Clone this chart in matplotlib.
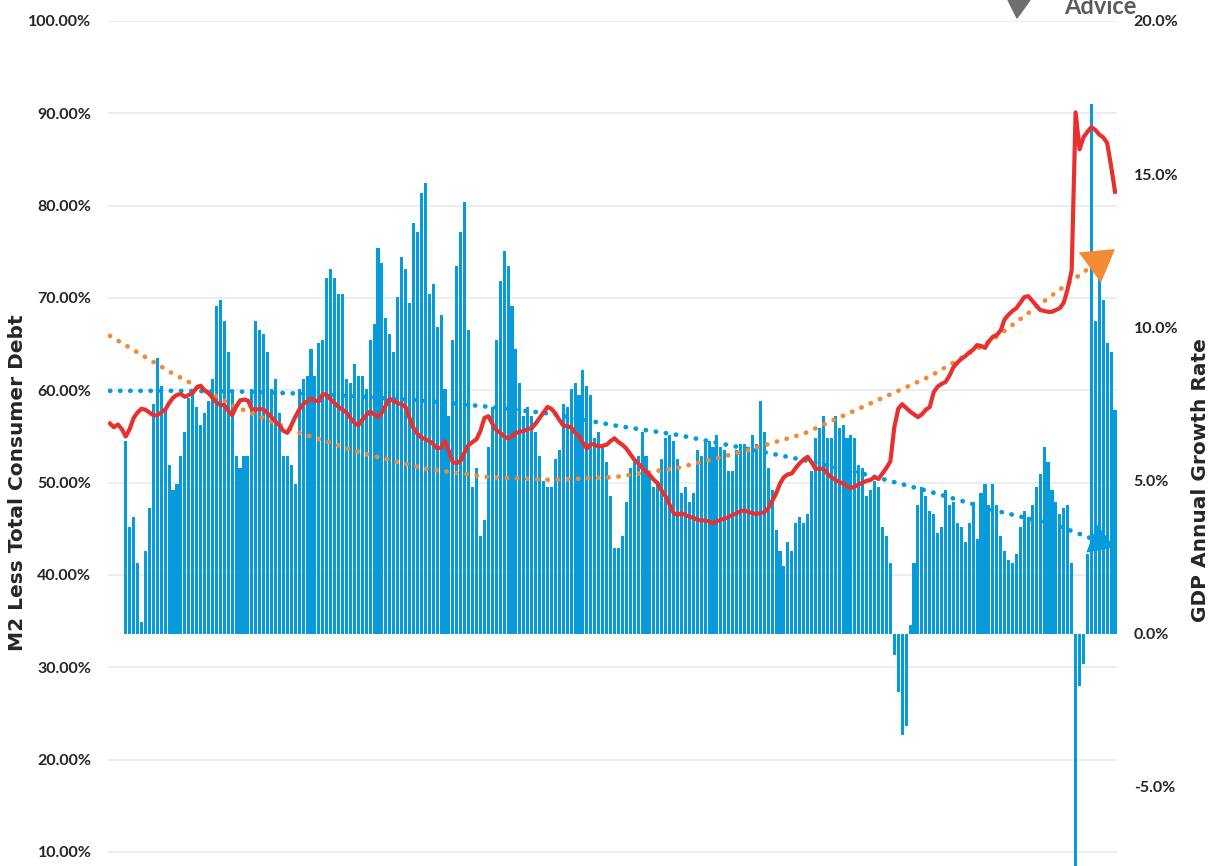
import numpy as np
import pandas as pd
import matplotlib
matplotlib.use('Agg')
import matplotlib.pyplot as plt
from matplotlib.ticker import FuncFormatter

plt.rcParams['font.family'] = ['Lato', 'DejaVu Sans']

# Quarters covered by the chart
quarters = pd.period_range('1959Q1', '2022Q4', freq='Q')

# M2 less total consumer debt (% of GDP), quarterly 1959Q1 - 2022Q4
m2_less_debt = [
    56.4, 56.0, 56.3, 55.8, 55.0, 55.8, 57.0, 57.6, 58.0, 57.9, 57.6, 57.3, 57.3, 57.6, 57.9, 58.6,  # 1959-62
    59.2, 59.5, 59.6, 59.3, 59.5, 59.7, 60.3, 60.5, 60.0, 59.7, 59.2, 58.7, 58.4, 58.4, 57.8, 57.3,  # 1963-66
    58.2, 58.9, 59.0, 58.9, 58.0, 57.9, 58.0, 57.9, 57.5, 57.1, 56.6, 56.2, 55.6, 55.4, 56.2, 57.1,  # 1967-70
    57.9, 58.5, 58.8, 59.1, 58.9, 58.8, 59.6, 59.5, 59.0, 58.6, 58.2, 57.9, 57.6, 57.0, 56.5, 56.2,  # 1971-74
    56.8, 57.3, 57.7, 57.4, 57.1, 57.6, 58.4, 59.1, 58.8, 58.6, 58.5, 58.2, 57.0, 55.9, 55.3, 54.9,  # 1975-78
    54.7, 54.5, 54.2, 53.7, 53.8, 54.5, 53.4, 52.2, 52.1, 52.4, 53.3, 54.1, 54.4, 54.7, 55.6, 57.0,  # 1979-82
    57.2, 56.4, 55.7, 55.4, 55.0, 54.8, 55.0, 55.4, 55.5, 55.6, 55.8, 55.9, 56.4, 57.0, 57.6, 58.2,  # 1983-86
    58.0, 57.5, 56.8, 56.2, 56.1, 56.0, 55.4, 55.0, 54.3, 53.7, 54.2, 54.1, 53.9, 54.0, 54.1, 54.5,  # 1987-90
    54.8, 54.4, 54.1, 53.7, 53.1, 52.5, 52.1, 51.6, 51.2, 50.8, 50.3, 49.9, 49.1, 48.5, 47.6, 46.7,  # 1991-94
    46.5, 46.7, 46.5, 46.3, 46.2, 46.0, 45.9, 45.9, 45.8, 45.6, 45.8, 46.0, 46.1, 46.3, 46.5, 46.7,  # 1995-98
    46.9, 47.0, 46.8, 46.7, 46.6, 46.7, 46.8, 47.2, 48.0, 48.8, 49.9, 50.6, 50.9, 51.0, 51.6, 52.1,  # 1999-02
    52.5, 52.8, 52.2, 51.5, 51.5, 51.5, 51.0, 50.6, 50.3, 50.1, 49.9, 49.6, 49.4, 49.6, 49.8, 50.0,  # 2003-06
    50.2, 50.3, 50.6, 50.4, 51.0, 51.6, 52.3, 56.0, 58.0, 58.5, 58.1, 57.7, 57.4, 57.1, 57.4, 57.9,  # 2007-10
    58.2, 59.8, 60.4, 60.7, 60.9, 61.6, 62.5, 63.0, 63.4, 63.7, 64.1, 64.4, 64.9, 64.8, 64.6, 65.3,  # 2011-14
    65.8, 66.0, 66.5, 67.7, 68.2, 68.6, 68.9, 69.5, 70.1, 70.2, 69.7, 69.2, 68.7, 68.6, 68.5, 68.5,  # 2015-18
    68.7, 68.9, 69.5, 71.0, 73.0, 90.1, 86.1, 87.4, 88.0, 88.5, 88.2, 87.7, 87.4, 86.8, 84.3, 81.5,  # 2019-22
]

# Nominal GDP annual (year over year) growth rate, quarterly 1960Q1 - 2022Q4
gdp_growth = [
    6.3, 3.5, 3.8, 2.3, 0.4, 2.7, 4.1, 7.5, 9.0, 8.1, 7.3, 5.5, 4.7, 4.9, 5.8, 6.6,  # 1960-63
    7.7, 7.8, 7.4, 6.8, 7.2, 7.6, 8.3, 10.7, 10.9, 10.2, 9.2, 7.9, 5.8, 5.4, 5.8, 5.8,  # 1964-67
    8.0, 10.2, 9.9, 9.8, 9.2, 8.0, 8.3, 7.2, 5.8, 5.8, 5.5, 4.9, 8.0, 8.3, 8.4, 9.3,  # 1968-71
    8.4, 9.5, 9.6, 11.6, 11.9, 11.6, 11.1, 11.1, 8.3, 8.2, 8.8, 8.4, 8.4, 8.0, 9.6, 10.1,  # 1972-75
    12.6, 12.1, 10.3, 9.8, 9.2, 11.0, 12.3, 11.9, 10.8, 13.4, 13.1, 14.4, 14.7, 11.1, 11.4, 10.0,  # 1976-79
    10.4, 8.0, 7.1, 9.6, 12.0, 13.1, 14.1, 9.9, 4.8, 5.4, 3.2, 3.7, 6.1, 7.4, 9.6, 11.5,  # 1980-83
    12.5, 12.0, 10.7, 9.3, 8.2, 7.1, 7.4, 7.1, 6.6, 5.8, 5.0, 4.8, 4.8, 5.7, 6.0, 7.5,  # 1984-87
    7.4, 8.0, 8.2, 7.8, 8.6, 8.1, 7.8, 6.4, 6.6, 6.2, 5.6, 4.5, 2.8, 2.8, 3.2, 4.3,  # 1988-91
    5.4, 5.6, 5.8, 6.6, 5.8, 5.2, 4.8, 5.0, 5.7, 6.4, 6.5, 6.3, 5.7, 4.6, 4.8, 4.3,  # 1992-95
    4.6, 6.0, 5.8, 6.3, 6.3, 6.1, 6.5, 6.1, 6.0, 5.3, 5.3, 6.0, 6.2, 6.2, 6.1, 6.5,  # 1996-99
    6.2, 7.6, 6.6, 5.4, 4.7, 3.4, 2.7, 2.2, 3.0, 2.7, 3.6, 3.8, 3.6, 3.9, 5.3, 6.4,  # 2000-03
    6.7, 7.1, 6.4, 6.4, 7.1, 6.7, 6.8, 6.4, 6.5, 6.4, 5.5, 5.4, 4.5, 4.7, 5.0, 4.8,  # 2004-07
    3.5, 3.2, 2.3, -0.7, -1.9, -3.3, -3.0, 0.3, 2.3, 4.2, 4.8, 4.5, 4.0, 3.9, 3.3, 3.5,  # 2008-11
    4.7, 4.2, 4.3, 3.6, 3.5, 3.0, 3.6, 4.3, 3.1, 4.6, 4.9, 4.2, 4.9, 4.2, 3.2, 2.7,  # 2012-15
    2.4, 2.3, 2.6, 3.5, 4.0, 3.8, 4.2, 4.8, 5.2, 6.1, 5.6, 4.7, 4.3, 3.9, 4.1, 4.2,  # 2016-19
    2.3, -8.5, -1.7, -1.0, 2.6, 17.3, 10.2, 12.2, 10.9, 9.5, 9.2, 7.3,  # 2020-22
]

# Trendlines
trend_quarters = ['1959Q1', '1963Q1', '1967Q1', '1971Q1', '1975Q1', '1979Q1', '1983Q1', '1987Q1',
                  '1991Q1', '1995Q1', '1999Q1', '2003Q1', '2007Q1', '2011Q1', '2015Q1', '2019Q1',
                  '2022Q4']
m2_trend = [65.9, 61.8, 58.2, 55.4, 53.2, 51.5, 50.6, 50.3, 50.6, 51.6, 53.3, 55.3, 58.4, 61.5,
            65.5, 70.6, 75.3]
gdp_trend = [7.93, 7.93, 7.91, 7.84, 7.74, 7.60, 7.41, 7.18, 6.80, 6.49, 6.08, 5.67, 5.19, 4.64,
             4.04, 3.55, 2.82]

left_ticks = list(range(10, 101, 10))
right_ticks = [-5, 0, 5, 10, 15, 20]

blue = '#079bdc'
red = '#e8312f'
orange = '#f58a35'
text_col = '#262626'

x = np.arange(len(quarters))
x_gdp = x[len(quarters) - len(gdp_growth):]
x_trend = np.array([quarters.get_loc(pd.Period(q, freq='Q')) for q in trend_quarters])

fig = plt.figure(figsize=(12.14, 8.66), dpi=100)
W, H = 1214, 866
ax = fig.add_axes([108 / W, 0, 1009 / W, (H - 21) / H])
ax.set_xlim(-0.5, len(x) - 0.5)
ax.set_ylim(8.48, 100)
ax.set_yticks(left_ticks)
ax.yaxis.set_major_formatter(FuncFormatter(lambda v, p: f'{v:.2f}%'))
ax.yaxis.grid(True, color='#e7ebed', lw=1.2)
ax.set_axisbelow(True)
ax.set_xticks([])

# bars on the secondary axis
ax2 = ax.twinx()
ax2.set_ylim(-7.58, 20)
ax2.set_yticks(right_ticks)
ax2.yaxis.set_major_formatter(FuncFormatter(lambda v, p: f'{v:.1f}%'))
ax2.bar(x_gdp, gdp_growth, width=0.78, color=blue, zorder=2)

dots = dict(lw=3.4, linestyle=(0, (0.05, 2.1)), dash_capstyle='round', zorder=3)
head = '-|>,head_length=0.75,head_width=0.45'

# GDP trend with arrow end
ax2.plot(x_trend, gdp_trend, color=blue, **dots)
ax2.annotate('', xy=(x_trend[-1], gdp_trend[-1]), xytext=(x_trend[-2], gdp_trend[-2]),
             arrowprops=dict(arrowstyle=head, color=blue, lw=0, mutation_scale=24,
                             shrinkA=0, shrinkB=0), zorder=3)

# overlay axis for the M2 series (left scale)
ax3 = ax.twinx()
ax3.set_ylim(ax.get_ylim())
ax3.axis('off')
ax3.plot(x_trend, m2_trend, color=orange, **dots)
ax3.annotate('', xy=(x_trend[-1], m2_trend[-1]), xytext=(x_trend[-2], m2_trend[-2]),
             arrowprops=dict(arrowstyle=head, color=orange, lw=0, mutation_scale=30,
                             shrinkA=0, shrinkB=0), zorder=3)
ax3.plot(x, m2_less_debt, color=red, lw=3.0, solid_joinstyle='round', zorder=4)

for a in (ax, ax2, ax3):
    for s in a.spines.values():
        s.set_visible(False)
for a in (ax, ax2):
    a.tick_params(axis='y', length=0, pad=12, labelsize=11.5, labelcolor=text_col)
    for lab in a.get_yticklabels():
        lab.set_fontweight('bold')

fig.text(18 / W, 1 - 483 / H, 'M2 Less Total Consumer Debt', rotation=90, ha='center',
         va='center', fontsize=14.5, fontweight='bold', color=text_col, family=['DejaVu Sans'])
fig.text(1200 / W, 1 - 480 / H, 'GDP Annual Growth Rate', rotation=90, ha='center',
         va='center', fontsize=14.5, fontweight='bold', color=text_col, family=['DejaVu Sans'])

# logo fragment at the top
fig.text(1064 / W, 1 - 14 / H, 'Advice', ha='left', va='baseline', fontsize=17,
         fontweight='bold', color='#5a5b5d')
fig.patches.append(plt.Polygon([[1008 / W, 1], [1030 / W, 1], [1017 / W, 1 - 18 / H]],
                               closed=True, transform=fig.transFigure, color='#6d6e70'))

fig.savefig('out.png', dpi=100)
